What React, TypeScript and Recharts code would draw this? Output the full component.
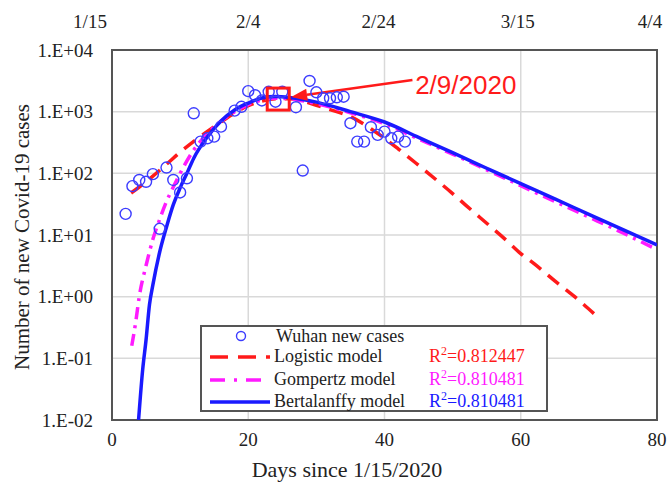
import React from 'react';
import {
  ComposedChart,
  Line,
  Scatter,
  XAxis,
  YAxis,
  CartesianGrid,
  ReferenceArea,
  ReferenceDot,
  ReferenceLine,
  Legend,
} from 'recharts';

// reported daily new cases in Wuhan
const caseDays = [2, 3, 4, 5, 6, 7, 8, 9, 10, 11, 12, 13, 14, 15, 16, 18, 19, 20, 21, 22, 23, 24, 25, 27, 28, 29, 30, 31, 32, 33, 34, 35, 36, 37, 38, 39, 40, 41, 42, 43];
const caseCounts = [22, 62, 78, 73, 97, 12.6, 124, 78, 49, 83, 942, 327, 370, 394, 572, 1040, 1200, 2150, 1850, 1520, 2100, 1450, 2100, 1180, 111, 3150, 2060, 1650, 1650, 1710, 1750, 650, 327, 327, 560, 420, 474, 370, 394, 327];

// fitted model curves
const logisticDays = [2.8, 4, 6, 8, 10, 12, 14, 16, 18, 20, 22, 24, 26, 28, 30, 32, 35, 38, 40, 42, 45, 48, 50, 52, 55, 58, 60, 62, 65, 68, 71];
const logisticValues = [48, 60, 90, 140, 220, 330, 480, 680, 950, 1250, 1480, 1620, 1620, 1480, 1270, 1080, 830, 530, 370, 250, 135, 72, 47, 30, 15.5, 8, 5, 3.4, 1.8, 0.98, 0.5];

const gompertzDays = [2.9, 3.5, 4, 5, 6, 7, 8, 9, 10, 12, 14, 16, 18, 20, 22, 24, 26, 28, 30, 35, 40, 45, 50, 55, 60, 65, 70, 75, 80];
const gompertzValues = [0.16, 0.4, 1.0, 3.2, 8.5, 18, 35, 60, 100, 240, 440, 700, 1000, 1300, 1550, 1650, 1620, 1500, 1350, 960, 640, 360, 205, 114, 63, 35, 19.5, 10.8, 5.8];

const bertalanffyDays = [3.9, 4.5, 5, 5.5, 6, 7, 8, 9, 10, 11, 12, 14, 16, 18, 20, 22, 24, 26, 28, 30, 35, 40, 45, 50, 55, 60, 65, 70, 75, 80];
const bertalanffyValues = [0.01, 0.065, 0.2, 0.74, 1.55, 5.3, 13.5, 31, 58, 100, 176, 390, 707, 1066, 1380, 1670, 1760, 1700, 1580, 1430, 1000, 680, 383, 216, 121, 68, 38.5, 21.6, 12.2, 6.9];

const dayTicks = [0, 20, 40, 60, 80];
const dateLabels = ['1/15', '2/4', '2/24', '3/15', '4/4'];
const dateLabelShift = [-22, 0, -6, -3, -7];
const caseTicks = [0.01, 0.1, 1, 10, 100, 1000, 10000];

const modelNames = ['Logistic model', 'Gompertz model', 'Bertalanffy model'];
const modelR2 = ['0.812447', '0.810481', '0.810481'];

// peak marker and its callout
const peakDay = 24.4;
const peakCases = 1600;
const peakLabel = '2/9/2020';

const SERIF = "'Liberation Serif', 'Times New Roman', serif";
const SANS = "'Liberation Sans', Arial, sans-serif";
const RED = '#ff1a1a';
const MAGENTA = '#ff1aff';
const BLUE = '#1a1aff';
const CIRCLE = '#3c3cff';

const zip = (xs: number[], ys: number[]) => xs.map((x, i) => ({ x, y: ys[i] }));

const cases = zip(caseDays, caseCounts);
const logistic = zip(logisticDays, logisticValues);
const gompertz = zip(gompertzDays, gompertzValues);
const bertalanffy = zip(bertalanffyDays, bertalanffyValues);

const sci = (v: number) => {
  const p = Math.round(Math.log10(v));
  return `1.E${p < 0 ? '-' : '+'}${String(Math.abs(p)).padStart(2, '0')}`;
};

const TopTick = (props: any) => {
  const { x, y, index } = props;
  return (
    <text x={x + dateLabelShift[index]} y={y} textAnchor="middle" fontSize={19} fontFamily={SERIF} fill="#222">
      {dateLabels[index]}
    </text>
  );
};

const OpenCircle = (props: any) => (
  <circle cx={props.cx} cy={props.cy} r={5.5} fill="none" stroke={CIRCLE} strokeWidth={1.4} />
);

const PeakBox = (props: any) => (
  <rect x={props.cx - 11} y={props.cy - 11} width={22} height={22} fill="none" stroke={RED} strokeWidth={3} />
);

const PeakText = (props: any) => (
  <text x={props.cx} y={props.cy} dominantBaseline="central" fontSize={26} fontFamily={SANS} fill={RED}>
    {peakLabel}
  </text>
);

const Arrow = (props: any) => {
  const { x1, y1, x2, y2 } = props;
  const a = Math.atan2(y2 - y1, x2 - x1);
  const len = 16;
  const w = 6;
  const bx = x2 - len * Math.cos(a);
  const by = y2 - len * Math.sin(a);
  const px = -Math.sin(a) * w;
  const py = Math.cos(a) * w;
  return (
    <g>
      <line x1={x1} y1={y1} x2={bx} y2={by} stroke={RED} strokeWidth={2.5} />
      <polygon points={`${x2},${y2} ${bx + px},${by + py} ${bx - px},${by - py}`} fill={RED} />
    </g>
  );
};

const swatches = [
  { color: RED, dash: '18 10' },
  { color: MAGENTA, dash: '15 9 3 9' },
  { color: BLUE, dash: undefined },
];
const r2Colors = [RED, MAGENTA, BLUE];

const LegendBox = () => {
  const rowTop = [-2, 18, 41, 63];
  const text: React.CSSProperties = { position: 'absolute', fontFamily: SERIF, fontSize: 18, color: '#222', lineHeight: '22px', whiteSpace: 'nowrap' };
  return (
    <div style={{ position: 'relative', width: 348, height: 87, border: '2px solid #555', boxSizing: 'border-box', background: '#fff' }}>
      <svg width={70} height={87} style={{ position: 'absolute', left: 0, top: 0 }}>
        <circle cx={39} cy={rowTop[0] + 11} r={4.5} fill="none" stroke={CIRCLE} strokeWidth={1.4} />
        {swatches.map((s, i) => (
          <line key={i} x1={8} x2={68} y1={rowTop[i + 1] + 12} y2={rowTop[i + 1] + 12} stroke={s.color} strokeWidth={3.5} strokeDasharray={s.dash} />
        ))}
      </svg>
      <div style={{ ...text, left: 74, top: rowTop[0] }}>Wuhan new cases</div>
      {modelNames.map((name, i) => (
        <React.Fragment key={name}>
          <div style={{ ...text, left: 72, top: rowTop[i + 1] }}>{name}</div>
          <div style={{ ...text, left: 227, top: rowTop[i + 1], color: r2Colors[i] }}>
            R<sup style={{ fontSize: 12, lineHeight: 0 }}>2</sup>={modelR2[i]}
          </div>
        </React.Fragment>
      ))}
    </div>
  );
};

const YTitle = (props: any) => {
  const { x, y, height } = props.viewBox;
  const cx = x + 10;
  const cy = y + height / 2 + 2;
  return (
    <text
      x={cx}
      y={cy}
      transform={`rotate(-90 ${cx} ${cy})`}
      textAnchor="middle"
      dominantBaseline="central"
      fill="#222"
      style={{ fontFamily: SERIF, fontSize: 21 }}
    >
      Number of new Covid-19 cases
    </text>
  );
};

const XTitle = (props: any) => {
  const { x, y } = props.viewBox;
  return (
    <text x={x + 235} y={y + 57} textAnchor="middle" fill="#222" style={{ fontFamily: SERIF, fontSize: 22 }}>
      Days since 1/15/2020
    </text>
  );
};

export default function App() {
  return (
    <div style={{ position: 'absolute', left: 0, top: 0, width: 672, height: 490, background: '#fff' }}>
      <ComposedChart width={672} height={490} margin={{ top: 20, right: 15, bottom: 0, left: 12 }}>
        <CartesianGrid stroke="#d9d9d9" strokeWidth={1.5} />
        <XAxis
          dataKey="x"
          type="number"
          domain={[0, 80]}
          ticks={dayTicks}
          allowDataOverflow
          height={70}
          axisLine={false}
          tickLine={false}
          tickSize={0}
          tickMargin={13}
          tick={{ fontSize: 19, fontFamily: SERIF, fill: '#222' }}
          label={{ content: XTitle }}
        />
        <XAxis
          xAxisId="top"
          orientation="top"
          dataKey="x"
          type="number"
          domain={[0, 80]}
          ticks={dayTicks}
          allowDataOverflow
          height={30}
          axisLine={false}
          tickLine={false}
          tickSize={0}
          tickMargin={22}
          tick={<TopTick />}
        />
        <YAxis
          dataKey="y"
          type="number"
          scale="log"
          domain={[0.01, 10000]}
          ticks={caseTicks}
          allowDataOverflow
          width={100}
          axisLine={false}
          tickLine={false}
          tickSize={0}
          tickMargin={19}
          tickFormatter={sci}
          tick={{ fontSize: 19, fontFamily: SERIF, fill: '#222' }}
          label={{ content: YTitle }}
        />
        <ReferenceArea x1={0} x2={80} y1={0.01} y2={10000} fill="none" stroke="#555" strokeWidth={2} />
        <Scatter data={cases} dataKey="y" shape={OpenCircle} isAnimationActive={false} />
        <Line data={logistic} dataKey="y" type="monotone" stroke={RED} strokeWidth={3.5} strokeDasharray="14 9" dot={false} isAnimationActive={false} />
        <Line data={gompertz} dataKey="y" type="monotone" stroke={MAGENTA} strokeWidth={3.5} strokeDasharray="12 6 3 6" dot={false} isAnimationActive={false} />
        <Line data={bertalanffy} dataKey="y" type="monotone" stroke={BLUE} strokeWidth={3.5} dot={false} isAnimationActive={false} />
        <ReferenceDot x={peakDay} y={peakCases} r={11} shape={PeakBox} />
        <ReferenceLine segment={[{ x: 44.1, y: 3265 }, { x: 26.3, y: 1730 }]} shape={Arrow} />
        <ReferenceDot x={44.5} y={2700} r={1} shape={PeakText} />
        <Legend
          layout="vertical"
          align="center"
          verticalAlign="middle"
          content={LegendBox}
          wrapperStyle={{ left: 200, top: 325, width: 348, height: 87 }}
        />
      </ComposedChart>
    </div>
  );
}
